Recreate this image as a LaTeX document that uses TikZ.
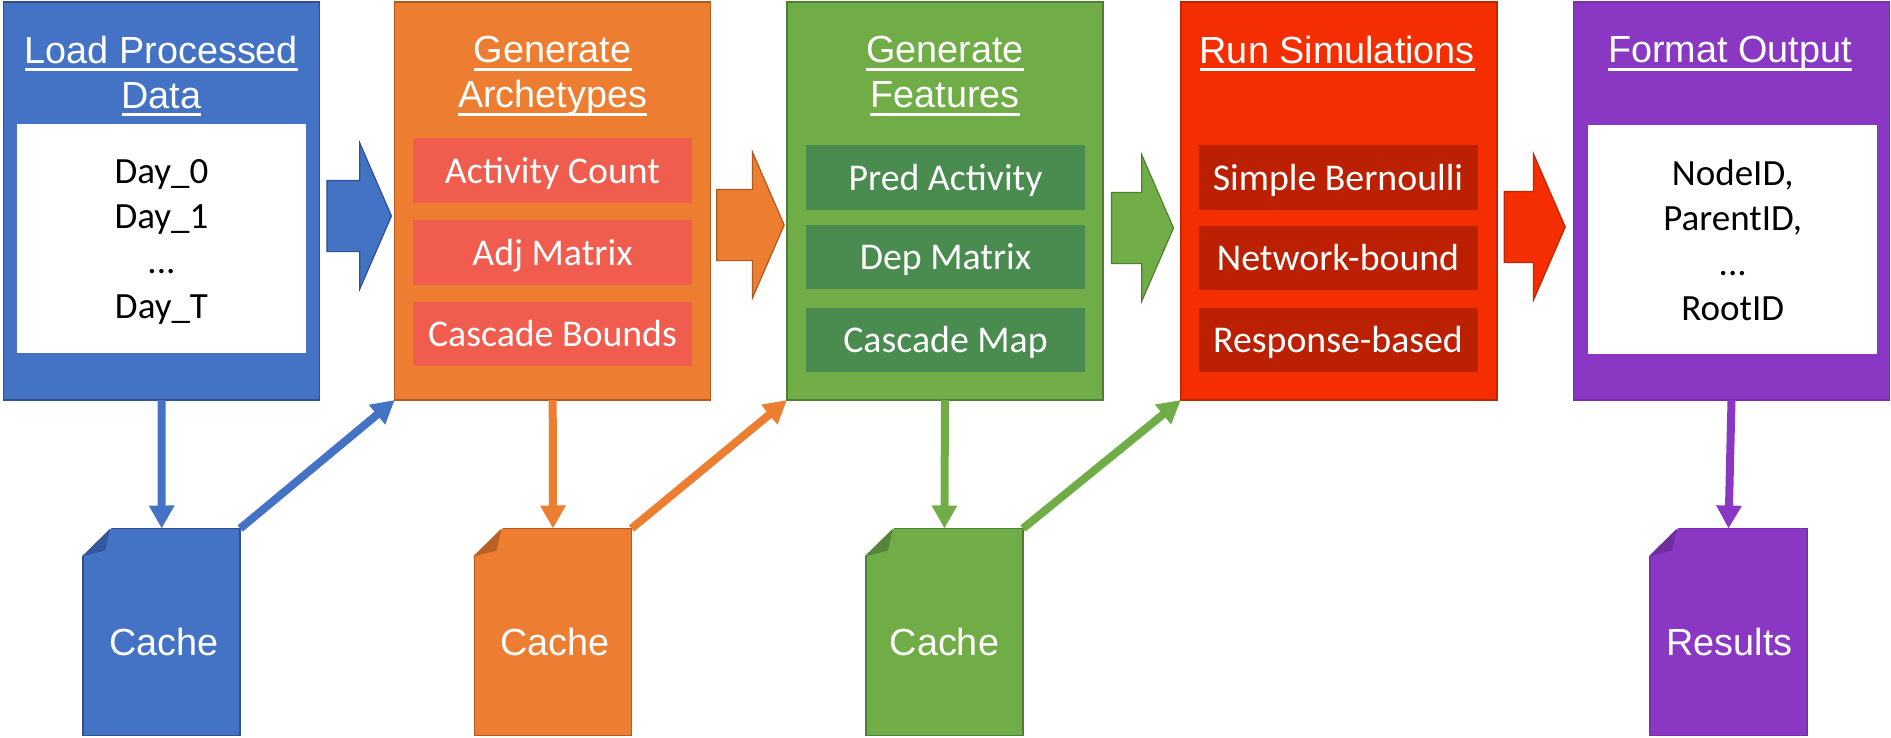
\documentclass[tikz,border=0pt]{standalone}
\usepackage{fontspec}
\setmainfont{Carlito}
\newfontfamily\headfont{Liberation Sans}
\usetikzlibrary{shapes.arrows, arrows.meta, calc}

\definecolor{loadcol}{HTML}{4472C4}
\definecolor{loaddark}{HTML}{2F528F}
\definecolor{loadfold}{HTML}{34589C}
\definecolor{archcol}{HTML}{ED7D31}
\definecolor{archdark}{HTML}{AE5A21}
\definecolor{archfold}{HTML}{B96024}
\definecolor{architem}{HTML}{F05C4D}
\definecolor{featcol}{HTML}{70AD47}
\definecolor{featdark}{HTML}{507E32}
\definecolor{featfold}{HTML}{55843A}
\definecolor{featitem}{HTML}{4A8B50}
\definecolor{simcol}{HTML}{F52E00}
\definecolor{simdark}{HTML}{C22600}
\definecolor{simitem}{HTML}{BB2003}
\definecolor{outcol}{HTML}{8A38C4}
\definecolor{outdark}{HTML}{7A30AE}
\definecolor{outfold}{HTML}{6F2D9E}

\newcommand{\headrule}[1]{\setbox0\hbox{#1}\rlap{\rule[-8pt]{\wd0}{3pt}}\box0}

\tikzset{
  stagebox/.style = {draw, line width = 1.5pt, minimum width = 316pt, minimum height = 398pt, inner sep = 0pt, outer sep = 0pt},
  headtext/.style = {text = white, align = center, inner sep = 0pt, font = \headfont\fontsize{37.8}{45}\selectfont},
  itembox/.style = {text = white, inner sep = 0pt, outer sep = 0pt, minimum width = 279pt, text height = 30pt, text depth = 5pt, font = \fontsize{37.8}{45}\selectfont},
  listbox/.style = {fill = white, align = center, inner sep = 0pt, outer sep = 0pt, minimum width = 289pt, minimum height = 229pt, font = \fontsize{37}{45}\selectfont},
  blockarrow/.style = {shape = single arrow, line width = 1.2pt, inner xsep = 0pt, inner ysep = 35pt, outer sep = 0pt, minimum width = 146pt, single arrow head extend = 37.5pt, single arrow tip angle = 133, shape border rotate = 0},
  docbox/.style = {draw, line width = 1.5pt, minimum width = 157pt, minimum height = 207pt, inner sep = 0pt, outer sep = 0pt},
  doctext/.style = {text = white, inner sep = 0pt, font = \headfont\fontsize{37.8}{45}\selectfont},
  flow/.style = {line width = 8pt, -{Triangle[length = 23pt, width = 24pt]}}
}

\begin{document}
\begin{tikzpicture}[x = 1pt, y = -1pt]
  \useasboundingbox (0, 0) rectangle (1891, 737);

  % stages
  \node[stagebox, fill = loadcol, draw = loaddark] (load) at (161.5, 201) {};
  \node[stagebox, fill = archcol, draw = archdark] (arch) at (552.7, 201) {};
  \node[stagebox, fill = featcol, draw = featdark] (feat) at (945, 201) {};
  \node[stagebox, fill = simcol, draw = simdark] (sim) at (1338.8, 201) {};
  \node[stagebox, fill = outcol, draw = outdark] (out) at (1731.5, 201) {};

  \node[headtext] (loadhead) at (161.5, 76) {\headrule{Load Processed}\\\headrule{Data}};
  \node[headtext] (archhead) at (552.7, 76) {\headrule{Generate}\\\headrule{Archetypes}};
  \node[headtext] (feathead) at (945, 76) {\headrule{Generate}\\\headrule{Features}};
  \node[headtext] (simhead) at (1337.3, 53.5) {\headrule{Run Simulations}};
  \node[headtext] (outhead) at (1730, 53.5) {\headrule{Format Output}};

  % contents
  \node[listbox] (days) at (161.5, 238.8) {\rule{0pt}{31pt}Day\_0\\Day\_1\\...\\Day\_T};
  \node[listbox] (fields) at (1732.7, 239.8) {NodeID,\\ParentID,\\...\\RootID};

  \node[itembox, fill = architem, minimum height = 65pt] (count) at (552.5, 170.5) {Activity Count};
  \node[itembox, fill = architem, minimum height = 65pt] (adj) at (552.5, 252.5) {Adj Matrix};
  \node[itembox, fill = architem, minimum height = 64pt] (bounds) at (552.5, 334) {Cascade Bounds};

  \node[itembox, fill = featitem, minimum height = 65pt] (pred) at (945.5, 177.5) {Pred Activity};
  \node[itembox, fill = featitem, minimum height = 64pt] (dep) at (945.5, 257) {Dep Matrix};
  \node[itembox, fill = featitem, minimum height = 64pt] (map) at (945.5, 340) {Cascade Map};

  \node[itembox, fill = simitem, minimum height = 65pt] (bern) at (1338, 177.5) {Simple Bernoulli};
  \node[itembox, fill = simitem, minimum height = 64pt] (net) at (1338, 258) {Network-bound};
  \node[itembox, fill = simitem, minimum height = 64pt] (resp) at (1338, 340) {Response-based};

  % block arrows
  \node[blockarrow, fill = loadcol, draw = loaddark, minimum height = 64.5pt] (loadnext) at (351.5, 216) {};
  \node[blockarrow, fill = archcol, draw = archdark, minimum height = 67.5pt] (archnext) at (742.7, 225) {};
  \node[blockarrow, fill = featcol, draw = featdark, minimum height = 62pt] (featnext) at (1134.8, 228) {};
  \node[blockarrow, fill = simcol, draw = simdark, minimum height = 61pt] (simnext) at (1527, 227) {};

  % files
  \node[docbox, fill = loadcol, draw = loaddark] (cacheA) at (161.7, 632) {};
  \node[docbox, fill = archcol, draw = archdark] (cacheB) at (553, 632) {};
  \node[docbox, fill = featcol, draw = featdark] (cacheC) at (944.4, 632) {};
  \node[docbox, fill = outcol, draw = outdark] (results) at (1728.5, 632) {};

  \foreach \doc/\edge/\fold in {cacheA/loaddark/loadfold, cacheB/archdark/archfold, cacheC/featdark/featfold, results/outdark/outfold} {
    \fill[white] ($(\doc.north west) + (-3, -3)$) -- ++(32, 0) -- ++(-1, 3) -- ++(-27, 27) -- ++(-3, 1) -- cycle;
    \fill[\fold] ($(\doc.north west) + (27, 0)$) -- ++(-28.5, 28) -- ++(23.5, -6) -- cycle;
  }

  \node[doctext] (cacheAtext) at ($(cacheA) + (2, 10)$) {Cache};
  \node[doctext] (cacheBtext) at ($(cacheB) + (2, 10)$) {Cache};
  \node[doctext] (cacheCtext) at ($(cacheC) + (0, 10)$) {Cache};
  \node[doctext] (resultstext) at ($(results) + (1, 10)$) {Results};

  % connectors
  \draw[flow, loadcol] (load.south) -- (cacheA.north);
  \draw[flow, loadcol] (cacheA.north east) -- (arch.south west);
  \draw[flow, archcol] (arch.south) -- (cacheB.north);
  \draw[flow, archcol] (cacheB.north east) -- (feat.south west);
  \draw[flow, featcol] (feat.south) -- (cacheC.north);
  \draw[flow, featcol] (cacheC.north east) -- (sim.south west);
  \draw[flow, outcol] (out.south) -- (results.north);

\end{tikzpicture}
\end{document}
